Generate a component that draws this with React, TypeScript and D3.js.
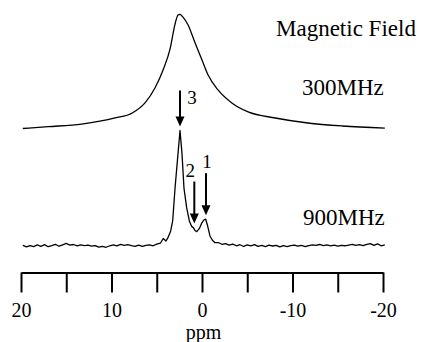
import React, { useEffect, useRef } from 'react';
import * as d3 from 'd3';

// 300 MHz spectrum (ppm, relative intensity)
const ppm300 = [19.8, 17.0, 13.3, 9.6, 7.7, 6.3, 5.2, 4.3, 3.5, 3.0, 2.65, 2.43, 2.1, 1.55, 0.77, 0.0, -0.66, -1.77, -3.3, -5.1, -8.1, -11.7, -15.5, -20.2];
const int300 = [0, 1.6, 3.9, 9.2, 13.6, 22.4, 35.5, 51.3, 70.6, 90.8, 99.4, 100, 97.5, 90.8, 75, 60, 47, 33.8, 22.4, 14.5, 9.2, 4.8, 2.2, 0.4];

// 900 MHz spectrum (ppm, relative intensity)
const ppm900 = [
  19.8, 19.4, 19.0, 18.6, 18.2, 17.8, 17.4, 17.0, 16.6, 16.2, 15.8, 15.4, 15.0, 14.6, 14.2, 13.8, 13.4, 13.0, 12.6, 12.2,
  11.8, 11.4, 11.0, 10.6, 10.2, 9.8, 9.4, 9.0, 8.6, 8.2, 7.8, 7.4, 7.0, 6.6, 6.2, 5.8, 5.4, 5.0, 4.6,
  4.28, 3.98, 3.76, 3.46, 3.24, 2.98, 2.65, 2.43, 2.21, 1.99, 1.69, 1.40, 1.15, 0.96, 0.78, 0.58, 0.30, 0.05, -0.20, -0.41,
  -0.60, -0.88, -1.15, -1.44,
  -1.8, -2.2, -2.6, -3.0, -3.4, -3.8, -4.2, -4.6, -5.0, -5.4, -5.8, -6.2, -6.6, -7.0, -7.4, -7.8, -8.2, -8.6, -9.0, -9.4,
  -9.8, -10.2, -10.6, -11.0, -11.4, -11.8, -12.2, -12.6, -13.0, -13.4, -13.8, -14.2, -14.6, -15.0, -15.4, -15.8, -16.2,
  -16.6, -17.0, -17.4, -17.8, -18.2, -18.6, -19.0, -19.4, -19.8, -20.2,
];
const int900 = [
  0.5, -0.8, 0.3, -0.5, 0.9, -0.3, 1.2, -0.6, 0.4, 1.5, -0.2, 1.0, 2.2, 0.8, 1.3, 0.2, 0.9, 0.3, 0.7, -0.2,
  0.4, -0.9, -0.3, -1.1, 0.2, 0.9, 0.1, 1.4, 0.6, 1.2, 0.3, -0.4, 0.8, -0.3, 0.6, 1.0, 0.2, 1.6, 2.4,
  6.5, 4.3, 7.2, 13, 21.7, 50, 80, 100, 80, 50, 33, 21.7, 17, 15.9, 13.5, 12.4, 15, 19.5, 22.5, 23.2,
  18, 8.7, 5, 2.9,
  3.0, 1.5, 2.0, 0.8, 1.6, 0.2, 1.1, -0.4, 0.9, 0.1, 1.2, -0.3, 0.5, -0.6, 0.7, 0.0, 0.6, -0.8, 0.4, -0.5,
  0.3, 0.8, -0.2, 0.5, -0.6, 0.4, 1.0, 0.6, 1.3, 0.4, 0.9, 0.2, 0.7, -0.1, 0.5, 0.2, 0.8,
  1.4, 0.6, 1.1, 0.3, 1.5, 2.0, 0.5, 1.8, 0.2, 0.9,
];

// peak annotations on the 900 MHz trace
const peakLabels = ['3', '2', '1'];
const peakPpm = [2.43, 0.85, -0.44];
const peakInt = [100, 16, 23.2];

const tickValues = [20, 15, 10, 5, 0, -5, -10, -15, -20];

const W = 425;
const H = 342;
const FONT = 'Liberation Serif, DejaVu Serif, serif';

export default function App() {
  const svgRef = useRef<SVGSVGElement>(null);

  useEffect(() => {
    const svg = d3.select(svgRef.current);
    svg.selectAll('*').remove();

    const x = d3.scaleLinear().domain([20, -20]).range([21, 383]);
    const yTop = d3.scaleLinear().domain([0, 100]).range([128.5, 14.3]);
    const yBot = d3.scaleLinear().domain([0, 100]).range([246, 130.5]);

    const top = ppm300.map((p, i) => [p, int300[i]] as [number, number]);
    const bot = ppm900.map((p, i) => [p, int900[i]] as [number, number]);

    const lineTop = d3.line<[number, number]>()
      .x(d => x(d[0]))
      .y(d => yTop(d[1]))
      .curve(d3.curveMonotoneX);
    const lineBot = d3.line<[number, number]>()
      .x(d => x(d[0]))
      .y(d => yBot(d[1]));

    svg.append('path')
      .attr('d', lineTop(top))
      .attr('fill', 'none')
      .attr('stroke', '#000')
      .attr('stroke-width', 1.3);

    svg.append('path')
      .attr('d', lineBot(bot))
      .attr('fill', 'none')
      .attr('stroke', '#000')
      .attr('stroke-width', 1.3)
      .attr('stroke-linejoin', 'round');

    // arrows marking the peaks
    const arrowLen = [36, 42, 42];
    const labelDx = [12, -4, 1];
    const labelDy = [-23, -47, -47];
    peakPpm.forEach((p, i) => {
      const ax = x(p);
      const tip = yBot(peakInt[i]) - 4;
      const start = tip - arrowLen[i];
      svg.append('line')
        .attr('x1', ax).attr('x2', ax)
        .attr('y1', start).attr('y2', tip - 8)
        .attr('stroke', '#000')
        .attr('stroke-width', 2);
      svg.append('path')
        .attr('d', `M${ax - 4.5},${tip - 10}L${ax + 4.5},${tip - 10}L${ax},${tip}Z`)
        .attr('fill', '#000');
      svg.append('text')
        .attr('x', ax + labelDx[i])
        .attr('y', tip + labelDy[i])
        .attr('text-anchor', 'middle')
        .attr('font-family', FONT)
        .attr('font-size', 19)
        .text(peakLabels[i]);
    });

    // field labels
    const labels: [string, number, number][] = [
      ['Magnetic Field', 276, 36],
      ['300MHz', 302, 95],
      ['900MHz', 303, 225],
    ];
    labels.forEach(([t, lx, ly]) => {
      svg.append('text')
        .attr('x', lx)
        .attr('y', ly)
        .attr('font-family', FONT)
        .attr('font-size', 23)
        .text(t);
    });

    // ppm axis
    const axis = d3.axisBottom(x)
      .tickValues(tickValues)
      .tickSize(20)
      .tickSizeOuter(0)
      .tickPadding(10.5)
      .tickFormat(d => (+d % 10 === 0 ? String(d) : ''));
    const g = svg.append('g')
      .attr('transform', 'translate(0,272.5)')
      .call(axis);
    g.attr('font-family', FONT).attr('font-size', 20);
    g.select('.domain').attr('stroke-width', 2);
    g.selectAll('.tick line').attr('stroke-width', 2);
    g.selectAll('.tick text').attr('fill', '#000');

    svg.append('text')
      .attr('x', 203.5)
      .attr('y', 339)
      .attr('text-anchor', 'middle')
      .attr('font-family', FONT)
      .attr('font-size', 20)
      .text('ppm');
  }, []);

  return (
    <svg
      ref={svgRef}
      width={W}
      height={H}
      style={{ position: 'absolute', left: 0, top: 0, background: '#fff' }}
    />
  );
}
